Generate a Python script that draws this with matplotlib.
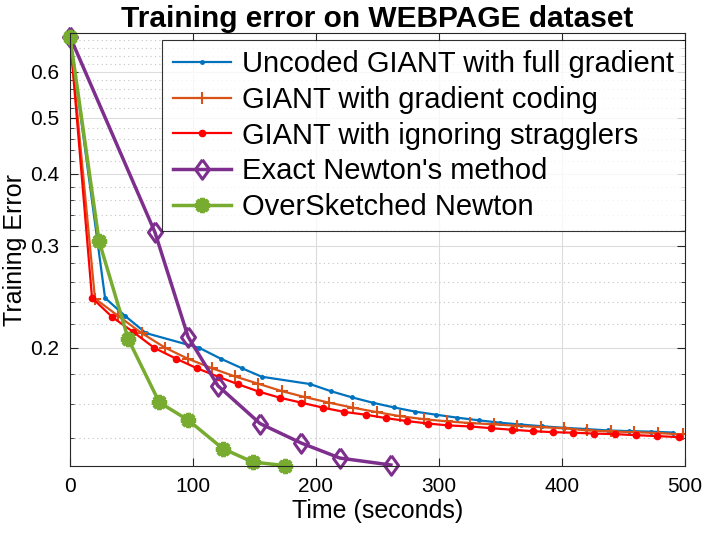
import numpy as np
import matplotlib
matplotlib.use('Agg')
import matplotlib.pyplot as plt
from matplotlib.ticker import FixedLocator, FixedFormatter, NullFormatter

plt.rcParams['font.family'] = ['Liberation Sans', 'DejaVu Sans']

# Uncoded GIANT with full gradient
t_uncoded = [0, 28.5, 44.7, 61.8, 105.1, 122.5, 139.6, 155.9, 195.1, 212.2, 229.5, 246.6,
             263.4, 280.5, 297.6, 314.9, 332.5, 349.6, 366.7, 384.0, 401.9, 419.5, 437.2,
             454.7, 472.4, 490.0]
e_uncoded = [0.69, 0.244, 0.2272, 0.2121, 0.200, 0.1916, 0.1845, 0.1783, 0.1732, 0.1683,
             0.1642, 0.1607, 0.1578, 0.1552, 0.1533, 0.1515, 0.1499, 0.1485, 0.1474, 0.1464,
             0.1455, 0.1448, 0.1440, 0.1436, 0.1433, 0.1428]

# GIANT with gradient coding
t_coded = [0, 20.3, 39.3, 58.3, 77.2, 95.7, 115.2, 134.1, 153.1, 172.1, 191.1, 210.8, 230.3,
           249.3, 268.3, 287.8, 306.3, 325.2, 344.7, 363.7, 382.7, 401.9, 420.6, 439.8,
           458.8, 478.3, 498.1]
e_coded = [0.69, 0.2433, 0.227, 0.2121, 0.2002, 0.1916, 0.1845, 0.1785, 0.1734, 0.1684,
           0.1644, 0.1608, 0.1576, 0.1549, 0.1524, 0.1506, 0.1493, 0.1483, 0.1475, 0.1467,
           0.1459, 0.1452, 0.1440, 0.1434, 0.1430, 0.1425, 0.1417]

# GIANT with ignoring stragglers
t_ignore = [0, 17.9, 34.4, 51.5, 68.5, 86.2, 103.0, 121.4, 136.8, 153.7, 170.7, 188.2, 206.0,
            223.0, 240.4, 257.2, 273.7, 291.3, 307.6, 325.2, 342.3, 359.1, 376.2, 392.9,
            409.2, 426.3, 443.1, 460.2, 477.5, 495.4]
e_ignore = [0.69, 0.244, 0.226, 0.213, 0.200, 0.1916, 0.1845, 0.178, 0.173, 0.168, 0.164,
            0.1608, 0.1576, 0.155, 0.1533, 0.1512, 0.1495, 0.148, 0.1469, 0.1463, 0.1453,
            0.1444, 0.1436, 0.1430, 0.1427, 0.1422, 0.1419, 0.1413, 0.1408, 0.1402]

# Exact Newton's method
t_newton = [0, 69.0, 96.0, 120.3, 154.5, 187.8, 219.5, 260.9]
e_newton = [0.69, 0.317, 0.209, 0.172, 0.148, 0.137, 0.129, 0.1255]

# OverSketched Newton
t_oversk = [0, 23.6, 47.4, 72.6, 96.2, 124.1, 148.5, 174.8]
e_oversk = [0.69, 0.306, 0.207, 0.161, 0.150, 0.134, 0.127, 0.1252]

labels = ['Uncoded GIANT with full gradient', 'GIANT with gradient coding',
          'GIANT with ignoring stragglers', "Exact Newton's method", 'OverSketched Newton']

yticks = [0.2, 0.3, 0.4, 0.5, 0.6]
ytick_labels = ['0.2', '0.3', '0.4', '0.5', '0.6']
xticks = [0, 100, 200, 300, 400, 500]

diamond = [(0, 1), (0.72, 0), (0, -1), (-0.72, 0), (0, 1)]

fig = plt.figure(figsize=(7.04, 5.34), dpi=100)
ax = fig.add_axes([70/704, 1-466/534, 615/704, 433/534])

ax.plot(t_uncoded, e_uncoded, color='#0072BD', lw=1.6, marker='.', ms=5, label=labels[0])
ax.plot(t_coded, e_coded, color='#D95319', lw=1.6, marker='+', ms=9, mew=1.5, label=labels[1])
ax.plot(t_ignore, e_ignore, color='#FF0000', lw=1.6, marker='.', ms=9, label=labels[2])
ax.plot(t_newton, e_newton, color='#7E2F8E', lw=2.5, marker=diamond, ms=14, mew=2.2,
        mfc='none', label=labels[3], clip_on=False)
ax.plot(t_oversk, e_oversk, color='#77AC30', lw=2.5, marker=(8, 2, 0), ms=11, mew=3,
        label=labels[4], clip_on=False)

ax.set_yscale('log')
ax.set_xlim(0, 500)
ax.set_ylim(0.125, 0.70)
ax.set_xticks(xticks)
ax.yaxis.set_major_locator(FixedLocator(yticks))
ax.yaxis.set_major_formatter(FixedFormatter(ytick_labels))
minor = [v/100 for v in range(14, 70, 2) if v not in (20, 30, 40, 50, 60)]
ax.yaxis.set_minor_locator(FixedLocator(minor))
ax.yaxis.set_minor_formatter(NullFormatter())

ax.grid(True, which='major', color='#dcdcdc', lw=0.8, ls='-')
ax.grid(True, which='minor', axis='y', color='#c4c4c4', lw=0.8, ls=(0, (1, 3)))
ax.set_axisbelow(True)

ax.tick_params(which='both', direction='in', top=True, right=True, labelsize=15, colors='#262626')
ax.tick_params(which='major', length=6, width=0.8, pad=8)
ax.tick_params(which='minor', length=3, width=0.6)
for s in ax.spines.values():
  s.set_color('#262626')
  s.set_linewidth(0.8)
ax.tick_params(labelcolor='black')

ax.set_xlabel('Time (seconds)', fontsize=18, labelpad=2)
ax.set_ylabel('Training Error', fontsize=18, labelpad=2)
ax.set_title('Training error on WEBPAGE dataset', fontsize=21.5, fontweight='bold', pad=0)

leg = ax.legend(loc='upper right', bbox_to_anchor=(685/704, 1-40/534),
                bbox_transform=fig.transFigure, fontsize=21, frameon=True, fancybox=False,
                edgecolor='black', borderaxespad=0, handlelength=2.0, labelspacing=0.26,
                borderpad=0.36, handletextpad=0.4)
leg.get_frame().set_linewidth(0.8)

fig.savefig('out.png', dpi=100)
